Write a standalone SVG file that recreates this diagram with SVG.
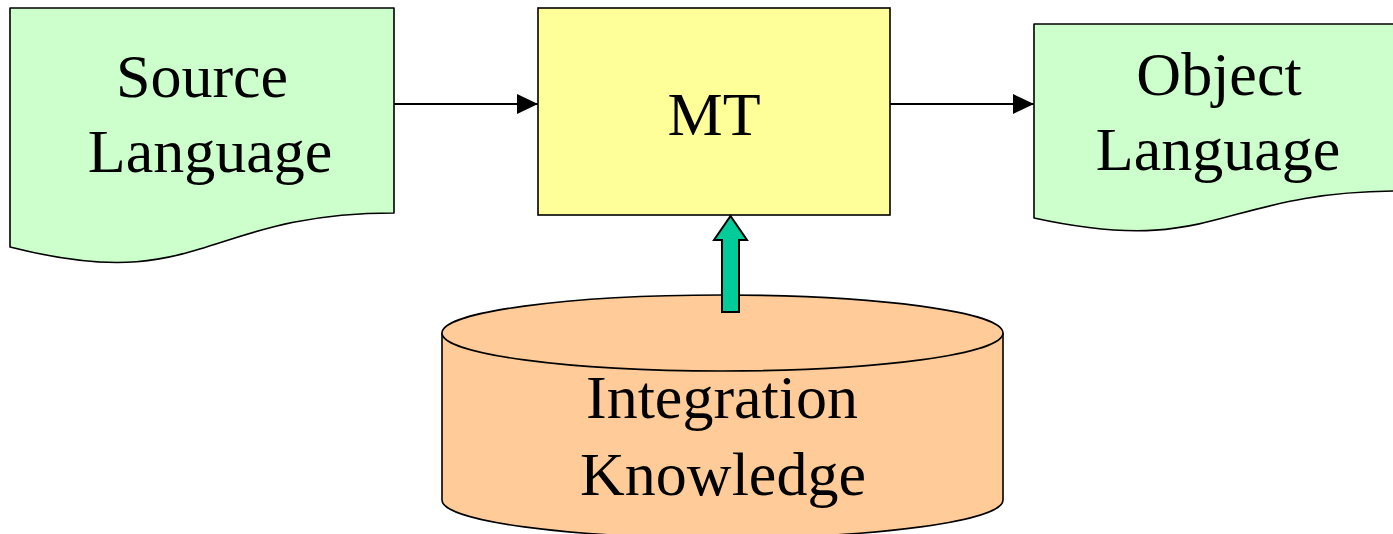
<svg xmlns="http://www.w3.org/2000/svg" width="1393" height="534" viewBox="0 0 1393 534">
  <style>
    .doc { fill: #CCFFCC; stroke: #000; stroke-width: 1.6; stroke-linejoin: round; }
    .box { fill: #FFFF99; stroke: #000; stroke-width: 1.6; }
    .db { fill: #FFCC99; stroke: #000; stroke-width: 1.6; }
    .lbl { font-family: "Liberation Serif", "Times New Roman", serif; font-size: 62px; fill: #000; text-anchor: middle; }
    .flow { stroke: #000; stroke-width: 2; fill: none; }
    .block { fill: #00CC99; stroke: #000; stroke-width: 2; stroke-linejoin: miter; }
  </style>
  <defs>
    <marker id="head" viewBox="0 0 21 20" refX="21" refY="10" markerWidth="21" markerHeight="20" markerUnits="userSpaceOnUse" orient="auto">
      <path d="M0,0 L21,10 L0,20 Z" fill="#000"/>
    </marker>
  </defs>

  <rect width="1393" height="534" fill="#fff"/>

  <!-- Source Language document -->
  <g id="source">
    <path class="doc" d="M10,8 H394 V213 C202,213 202,296 10,247 Z"/>
    <text class="lbl" x="202" y="97">Source</text>
    <text class="lbl" x="210" y="172">Language</text>
  </g>

  <!-- MT engine -->
  <g id="mt">
    <rect class="box" x="538" y="8" width="352" height="207"/>
    <text class="lbl" x="714" y="135">MT</text>
  </g>

  <!-- Object Language document (runs past the right edge) -->
  <g id="object">
    <path class="doc" d="M1034,24 H1401 V191 C1217.5,191 1217.5,258 1034,218 Z"/>
    <text class="lbl" x="1219" y="95">Object</text>
    <text class="lbl" x="1218" y="170">Language</text>
  </g>

  <!-- Integration Knowledge store -->
  <g id="knowledge">
    <path class="db" d="M442,333 V500 A280.5,38 0 0 0 1003,500 V333"/>
    <ellipse class="db" cx="722.5" cy="333" rx="280.5" ry="38"/>
    <text class="lbl" x="722" y="418">Integration</text>
    <text class="lbl" x="723" y="495">Knowledge</text>
  </g>

  <!-- connectors -->
  <g id="connectors">
    <line class="flow" x1="394" y1="104" x2="538" y2="104" marker-end="url(#head)"/>
    <line class="flow" x1="890" y1="104" x2="1034" y2="104" marker-end="url(#head)"/>
    <path class="block" d="M722,312 V240 H714 L730.5,216 L747,240 H739 V312 Z"/>
  </g>
</svg>
